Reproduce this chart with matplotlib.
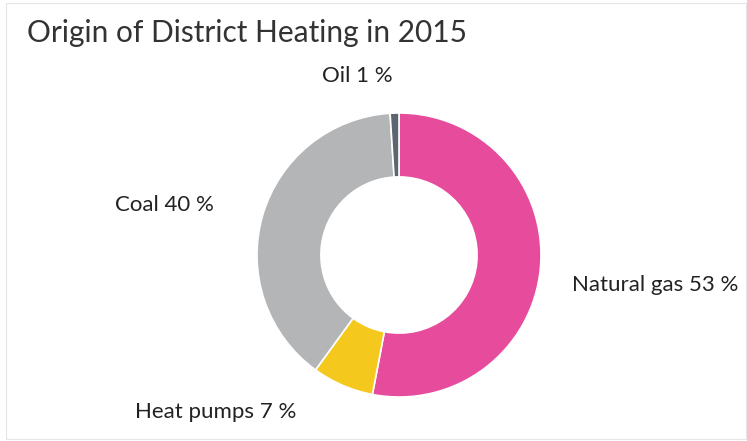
import matplotlib
matplotlib.use("Agg")
import matplotlib.pyplot as plt
from matplotlib.patches import Rectangle

# data
labels = ["Natural gas", "Heat pumps", "Coal", "Oil"]
values = [53, 7, 39, 1]
shown = ["53 %", "7 %", "40 %", "1 %"]
colors = ["#E64B9C", "#F5C81E", "#B3B5B7", "#5B6670"]

plt.rcParams["font.family"] = ["Lato", "DejaVu Sans"]

fig = plt.figure(figsize=(7.47, 4.41), dpi=100)
fig.patches.append(Rectangle((0.008, 0.004), 0.99, 0.99, transform=fig.transFigure,
                             fill=False, edgecolor="#e6e6e6", linewidth=0.8))

# donut centred at ~(399, 255) px, radius ~142 px
ax = fig.add_axes([(399 - 142) / 747, (441 - 255 - 142) / 441, 284 / 747, 284 / 441])
ax.pie(values, colors=colors, startangle=90, counterclock=False, radius=1.0,
       wedgeprops=dict(width=0.45, edgecolor="white", linewidth=1.2))
ax.set_xlim(-1, 1)
ax.set_ylim(-1, 1)
ax.axis("off")

fig.text(27 / 747, 1 - 33 / 441, "Origin of District Heating in 2015", fontsize=21.5,
         color="#333333", va="center", ha="left")

# label positions in pixels (x, y, ha)
pos = {
    "Oil": (357, 76, "center"),
    "Coal": (164, 205, "center"),
    "Natural gas": (572, 285, "left"),
    "Heat pumps": (135, 412, "left"),
}
for lab, s in zip(labels, shown):
    x, y, ha = pos[lab]
    fig.text(x / 747, 1 - y / 441, lab + " " + s, fontsize=16, color="#222222",
             ha=ha, va="center")

fig.savefig("out.png", dpi=100)
